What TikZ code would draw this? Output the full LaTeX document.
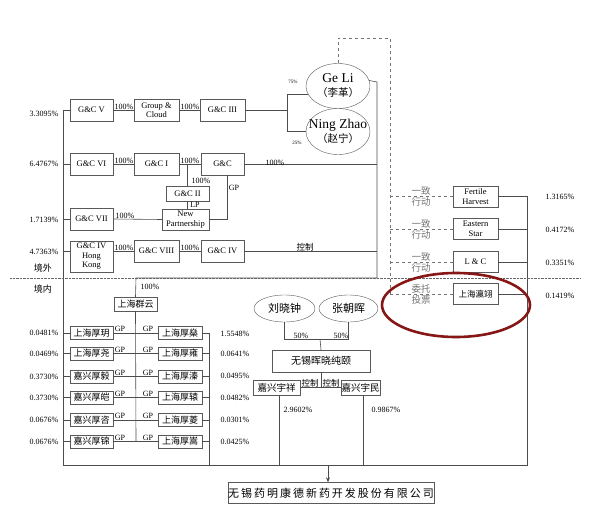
\documentclass[tikz,border=0pt]{standalone}
\usepackage{fontspec}
\setmainfont{Liberation Serif}
\newfontfamily\cjk{Noto Sans CJK SC}
\newfontfamily\cjkwide{Noto Sans CJK SC}[LetterSpace=18]
\usetikzlibrary{shapes.geometric,arrows.meta,positioning}
\definecolor{ringred}{RGB}{135,22,22}
\tikzset{
  ent/.style={draw=black!65, fill=white, inner sep=0pt, align=center, minimum width=43pt, minimum height=22pt, font=\fontsize{8.5}{9.5}\selectfont},
  cnbox/.style={ent, minimum height=13pt, font=\cjk\fontsize{9}{10}\selectfont},
  person/.style={ellipse, draw=black!65, fill=white, inner sep=0pt, align=center},
  pct/.style={inner sep=0pt, font=\fontsize{8}{9}\selectfont},
  lbl/.style={inner sep=0pt, font=\fontsize{8}{9}\selectfont},
  act/.style={inner sep=0pt, align=center, text=black!55, font=\cjk\fontsize{9.5}{11}\selectfont},
  conn/.style={draw=black!70, line width=0.6pt},
  vote/.style={draw=black!55, dashed, line width=0.6pt},
}
\begin{document}
\begin{tikzpicture}[x=1pt,y=-1pt]
\useasboundingbox (0,0) rectangle (595,505);

% overseas holders
\node[ent] (gcV) at (91.5,110) {G\&C V};
\node[ent, minimum width=45pt] (gcl) at (156.5,110) {Group \&\\Cloud};
\node[ent, minimum width=45pt] (gcIII) at (222.5,110) {G\&C III};
\node[ent] (gcVI) at (91.5,164) {G\&C VI};
\node[ent, minimum width=45pt] (gcI) at (156.5,164) {G\&C I};
\node[ent] (gc) at (222.5,164) {G\&C};
\node[ent, minimum height=15pt] (gcII) at (187.5,193.5) {G\&C II};
\node[ent, minimum width=47pt, minimum height=21pt] (newp) at (185.5,219.5) {New\\Partnership};
\node[ent] (gcVII) at (91.5,219) {G\&C VII};
\node[ent, minimum height=31pt] (gcIVhk) at (91.5,256.5) {G\&C IV\\Hong\\Kong};
\node[ent, minimum width=45pt] (gcVIII) at (156.5,251) {G\&C VIII};
\node[ent] (gcIV) at (222.5,251) {G\&C IV};

\node[person, minimum width=64pt, minimum height=45pt] (geli) at (338,86) {};
\node[inner sep=0pt, align=center] (gelitxt) at (338,86) {\fontsize{13.5}{15}\selectfont Ge Li\\[2pt]\cjk\fontsize{10.5}{12}\selectfont （李革）};
\node[person, minimum width=64pt, minimum height=46pt] (ningzhao) at (338,131.5) {};
\node[inner sep=0pt, align=center] (ningzhaotxt) at (338,131.5) {\fontsize{13.5}{15}\selectfont Ning Zhao\\[2pt]\cjk\fontsize{10.5}{12}\selectfont （赵宁）};

\node[pct] (pV) at (44,114) {3.3095\%};
\node[pct] (pVI) at (44,164) {6.4767\%};
\node[pct] (pVII) at (44,220) {1.7139\%};
\node[pct] (pIVhk) at (44,252) {4.7363\%};

% concerted parties
\node[ent, minimum width=45pt, minimum height=21pt] (fh) at (475.5,196.5) {Fertile\\Harvest};
\node[ent, minimum width=45pt, minimum height=21pt] (es) at (475.5,229) {Eastern\\Star};
\node[ent, minimum width=45pt, minimum height=21pt] (lc) at (475.5,262) {L \& C};
\node[ent, minimum width=45pt, minimum height=21pt, font=\cjk\fontsize{8.5}{10}\selectfont] (shyy) at (475.5,294) {上海瀛翊};
\node[pct] (pfh) at (560,197) {1.3165\%};
\node[pct] (pes) at (560,230) {0.4172\%};
\node[pct] (plc) at (560,263) {0.3351\%};
\node[pct] (pshyy) at (560,296) {0.1419\%};
\node[act] (act1) at (421,196.5) {一致\\行动};
\node[act] (act2) at (421,229) {一致\\行动};
\node[act] (act3) at (421,262) {一致\\行动};
\node[act] (vote4) at (421,294) {委托\\投票};

% domestic holders
\node[cnbox, minimum height=14pt] (qy) at (135.5,304) {上海群云};
\node[cnbox] (L1) at (91.5,333) {上海厚玥};
\node[cnbox] (L2) at (91.5,353.5) {上海厚尧};
\node[cnbox] (L3) at (91.5,376.5) {嘉兴厚毅};
\node[cnbox] (L4) at (91.5,397.5) {嘉兴厚皑};
\node[cnbox] (L5) at (91.5,420) {嘉兴厚咨};
\node[cnbox] (L6) at (91.5,441.5) {嘉兴厚锦};
\node[cnbox, minimum width=44pt] (R1) at (180,333) {上海厚燊};
\node[cnbox, minimum width=44pt] (R2) at (180,353.5) {上海厚雍};
\node[cnbox, minimum width=44pt] (R3) at (180,376.5) {上海厚溱};
\node[cnbox, minimum width=44pt] (R4) at (180,397.5) {上海厚辕};
\node[cnbox, minimum width=44pt] (R5) at (180,420) {上海厚菱};
\node[cnbox, minimum width=44pt] (R6) at (180,441.5) {上海厚嵩};
\node[pct] (pL1) at (44,333) {0.0481\%};
\node[pct] (pL2) at (44,353.5) {0.0469\%};
\node[pct] (pL3) at (44,376.5) {0.3730\%};
\node[pct] (pL4) at (44,397.5) {0.3730\%};
\node[pct] (pL5) at (44,420) {0.0676\%};
\node[pct] (pL6) at (44,441.5) {0.0676\%};
\node[pct] (pR1) at (235,334) {1.5548\%};
\node[pct] (pR2) at (235,354) {0.0641\%};
\node[pct] (pR3) at (235,376) {0.0495\%};
\node[pct] (pR4) at (235,397.5) {0.0482\%};
\node[pct] (pR5) at (235,419.5) {0.0301\%};
\node[pct] (pR6) at (235,441.5) {0.0425\%};

\node[person, minimum width=61pt, minimum height=27pt, font=\cjk\fontsize{11}{12}\selectfont] (lxz) at (284.5,308.5) {刘晓钟};
\node[person, minimum width=59pt, minimum height=27pt, font=\cjk\fontsize{11}{12}\selectfont] (zch) at (348.5,308.5) {张朝晖};
\node[ent, minimum width=98pt, font=\cjk\fontsize{10}{12}\selectfont] (hx) at (321,361) {无锡晖晓纯颐};
\node[cnbox, minimum width=47pt, minimum height=15pt, font=\cjk\fontsize{9.5}{11}\selectfont] (yx) at (276.5,387.5) {嘉兴宇祥};
\node[cnbox, minimum width=39pt, minimum height=15pt, font=\cjk\fontsize{9.5}{11}\selectfont] (ym) at (360.5,387.5) {嘉兴宇民};
\node[pct] (pyx) at (298,410) {2.9602\%};
\node[pct] (pym) at (386,410) {0.9867\%};

\node[ent, minimum width=198pt, minimum height=21pt, font=\cjkwide\fontsize{11}{12}\selectfont] (wx) at (331,493) {无锡药明康德新药开发股份有限公司};

% junctions
\coordinate (ltop) at (63,110);
\coordinate (lbot) at (63,465);
\coordinate (rtop) at (527,196.5);
\coordinate (rbot) at (527,465);
\coordinate (fork) at (287,110);
\coordinate (mtop) at (377,82);
\coordinate (mbot) at (377,278);
\coordinate (qtop) at (136,278);
\coordinate (qbot) at (136,441.5);
\coordinate (gtop) at (209,333);
\coordinate (gbot) at (209,465);
\coordinate (ptop) at (390,38);
\coordinate (pbot) at (390,294);
\coordinate (hj) at (320,339);

% frame
\draw[conn] (ltop) -- (lbot) -- (rbot) -- (rtop);
\draw[conn] (gtop) -- (gbot);
\draw[conn] (mtop) -- (mbot) -- (qtop) -- (qy.north);
\draw[conn] (qy.south) -- (qbot);
\draw[black!60, densely dotted] (10,278) -- (580,278);
\node[inner sep=0pt, font=\cjk\fontsize{9}{10}\selectfont] (jw) at (43,268) {境外};
\node[inner sep=0pt, font=\cjk\fontsize{9}{10}\selectfont] (jn) at (43,289) {境内};
\node[lbl] at (150,287) {100\%};

% upper chains
\draw[conn] (gcV.west) -- (gcV.west -| ltop);
\draw[conn] (gcVI.west) -- (gcVI.west -| ltop);
\draw[conn] (gcVII.west) -- (gcVII.west -| ltop);
\draw[conn] (gcIVhk.west |- gcVIII.west) -- (gcVIII.west -| ltop);
\draw[conn] (gcV) -- (gcl) -- (gcIII) -- (fork);
\draw[conn] (geli.195) -- (geli.195 -| fork) -- (ningzhao.west -| fork) -- (ningzhao.west);
\draw[conn] (geli.10) -- (mtop);
\node[inner sep=0pt, font=\fontsize{5}{6}\selectfont] at (293,82) {75\%};
\node[inner sep=0pt, font=\fontsize{5}{6}\selectfont] at (297,143) {25\%};
\node[lbl, anchor=south] at (124,110) {100\%};
\node[lbl, anchor=south] at (190,110) {100\%};

\draw[conn] (gcVI) -- (gcI) -- (gc);
\draw[conn] (gc.east) -- (gc.east -| mtop);
\node[lbl, anchor=south] at (124,164) {100\%};
\node[lbl, anchor=south] at (190,164) {100\%};
\node[lbl, anchor=south] at (275,166) {100\%};
\draw[conn] (gcII.north |- gcI.east) -- (gcII.north);
\node[lbl] at (201,181) {100\%};
\draw[conn] (gcII.south) -- (newp.north -| gcII.south);
\node[lbl] at (195,205) {LP};
\draw[conn] ([xshift=4.5pt]gc.south) |- (newp.east);
\node[lbl] at (234,188) {GP};
\draw[conn] (gcVII.east) -- (newp.west);
\node[lbl, anchor=south] at (125,219) {100\%};

\draw[conn] (gcVIII.west -| gcIVhk.east) -- (gcVIII.west);
\draw[conn] (gcVIII) -- (gcIV);
\draw[conn] (gcIV.east) -- (gcIV.east -| mtop);
\node[lbl, anchor=south] at (124,251) {100\%};
\node[lbl, anchor=south] at (190,251) {100\%};
\node[inner sep=0pt, anchor=south, font=\cjk\fontsize{8.5}{10}\selectfont] at (305,251) {控制};

% concerted parties
\draw[conn] (fh.east) -- (rtop);
\draw[conn] (es.east) -- (es.east -| rtop);
\draw[conn] (lc.east) -- (lc.east -| rtop);
\draw[conn] (shyy.east) -- (shyy.east -| rtop);
\draw[vote] (geli.north) |- (ptop) -- (pbot);
\draw[vote] (fh.west -| ptop) -- (fh.west);
\draw[vote] (es.west -| ptop) -- (es.west);
\draw[vote] (lc.west -| ptop) -- (lc.west);
\draw[vote] (shyy.west -| ptop) -- (shyy.west);

% domestic chains
\draw[conn] (L1.west) -- (L1.west -| ltop);
\draw[conn] (L2.west) -- (L2.west -| ltop);
\draw[conn] (L3.west) -- (L3.west -| ltop);
\draw[conn] (L4.west) -- (L4.west -| ltop);
\draw[conn] (L5.west) -- (L5.west -| ltop);
\draw[conn] (L6.west) -- (L6.west -| ltop);
\draw[conn] (L1) -- (R1);
\draw[conn] (L2) -- (R2);
\draw[conn] (L3) -- (R3);
\draw[conn] (L4) -- (R4);
\draw[conn] (L5) -- (R5);
\draw[conn] (L6) -- (R6);
\draw[conn] (R1.east) -- (R1.east -| gtop);
\draw[conn] (R2.east) -- (R2.east -| gtop);
\draw[conn] (R3.east) -- (R3.east -| gtop);
\draw[conn] (R4.east) -- (R4.east -| gtop);
\draw[conn] (R5.east) -- (R5.east -| gtop);
\draw[conn] (R6.east) -- (R6.east -| gtop);
\node[lbl, anchor=south] at (120,332) {GP};
\node[lbl, anchor=south] at (148,332) {GP};
\node[lbl, anchor=south] at (120,352.5) {GP};
\node[lbl, anchor=south] at (148,352.5) {GP};
\node[lbl, anchor=south] at (120,375.5) {GP};
\node[lbl, anchor=south] at (148,375.5) {GP};
\node[lbl, anchor=south] at (120,396.5) {GP};
\node[lbl, anchor=south] at (148,396.5) {GP};
\node[lbl, anchor=south] at (120,419) {GP};
\node[lbl, anchor=south] at (148,419) {GP};
\node[lbl, anchor=south] at (120,440.5) {GP};
\node[lbl, anchor=south] at (148,440.5) {GP};

\draw[conn] (lxz.south) -- (lxz.south |- hj) -- (zch.south |- hj) -- (zch.south);
\draw[conn] (hx.north) -- (hj);
\node[lbl, anchor=south] at (301,339) {50\%};
\node[lbl, anchor=south] at (341,339) {50\%};
\draw[conn] (hx.south) -- (hx.south |- yx.east);
\draw[conn] (yx.east) -- (ym.west);
\node[inner sep=0pt, anchor=south, font=\cjk\fontsize{8.5}{10}\selectfont] at (310,387) {控制};
\node[inner sep=0pt, anchor=south, font=\cjk\fontsize{8.5}{10}\selectfont] at (331,387) {控制};
\draw[conn] ([xshift=2.5pt]yx.south) -- ([xshift=2.5pt]yx.south |- lbot);
\draw[conn] ([xshift=2.5pt]ym.south) -- ([xshift=2.5pt]ym.south |- lbot);
\draw[conn, -{Stealth[length=5pt,width=4pt]}] ([xshift=-3pt]wx.north |- lbot) -- ([xshift=-3pt]wx.north);

% highlighted entrustment
\draw[ringred, line width=2.6pt] (456,305) ellipse [x radius=74pt, y radius=32pt];
\end{tikzpicture}
\end{document}
